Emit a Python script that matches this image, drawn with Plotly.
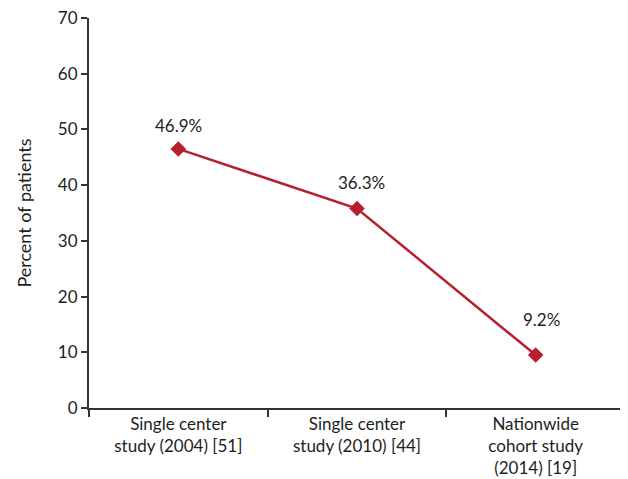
import plotly.graph_objects as go

categories = ["Single center<br>study (2004) [51]",
              "Single center<br>study (2010) [44]",
              "Nationwide<br>cohort study<br>(2014) [19]"]
values = [46.5, 35.8, 9.5]
labels = ["46.9%", "36.3%", "9.2%"]
y_ticks = [0, 10, 20, 30, 40, 50, 60, 70]

label_shift = [23, 26, 36]
label_xshift = [0, 4, 6]

RED = "#b71f2e"
AX = "#333333"
FONT = "Lato"
TXT = "#1e1e1e"

fig = go.Figure()
fig.add_trace(go.Scatter(
    x=categories, y=values, mode="lines+markers",
    line=dict(color=RED, width=2.5),
    marker=dict(symbol="diamond", size=12, color=RED),
    hoverinfo="skip", showlegend=False, cliponaxis=False,
))

for c, v, t, s, xs in zip(categories, values, labels, label_shift, label_xshift):
    fig.add_annotation(x=c, y=v, text=t, showarrow=False, yshift=s, xshift=xs,
                       font=dict(family=FONT, size=17, color=TXT))

fig.update_layout(
    width=628, height=479,
    margin=dict(l=81, r=11, t=10, b=79, autoexpand=False),
    paper_bgcolor="white", plot_bgcolor="white",
    font=dict(family=FONT, size=17, color=TXT),
)
fig.update_xaxes(
    type="category", range=[-0.5, 2.5], automargin=False,
    showline=True, linecolor=AX, linewidth=1.5,
    ticks="outside", tickson="boundaries", ticklen=7, tickcolor=AX, tickwidth=1.5,
    showgrid=False, zeroline=False, ticklabeloverflow="allow",
    tickfont=dict(family=FONT, size=17, color=TXT),
)
fig.update_yaxes(
    range=[0, 70], tickvals=y_ticks, automargin=False,
    showline=True, linecolor=AX, linewidth=2,
    ticks="outside", ticklen=6, tickcolor=AX, tickwidth=1.5,
    showgrid=False, zeroline=False, ticklabeloverflow="allow",
    title=dict(text="Percent of patients", standoff=22,
               font=dict(family=FONT, size=18, color=TXT)),
    tickfont=dict(family=FONT, size=17, color=TXT),
)

fig.write_html("out.html")
